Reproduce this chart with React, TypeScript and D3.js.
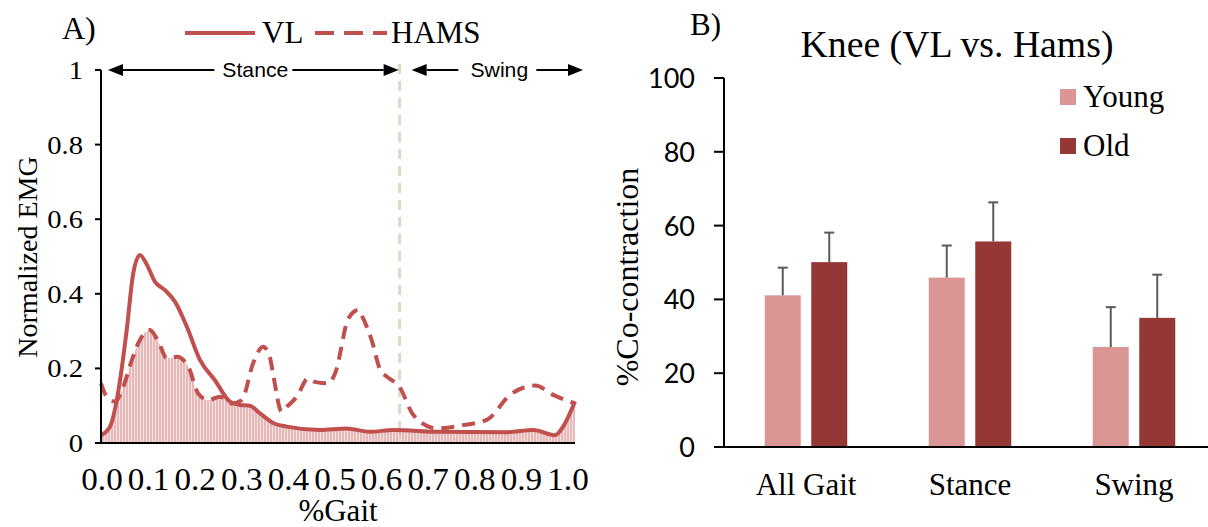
import React from "react"
import * as d3 from "d3"

// panel A: normalized EMG over the gait cycle
const gaitTicks = ["0.0", "0.1", "0.2", "0.3", "0.4", "0.5", "0.6", "0.7", "0.8", "0.9", "1.0"]
const emgTicks = [0, 0.2, 0.4, 0.6, 0.8, 1]
const vlGait = [0, .019, .037, .054, .068, .082, .096, .114, .135, .156, .181, .209, .240, .272, .293, .314, .335, .364, .392, .462, .518, .567, .617, .715, .856, .912, .958, .975, 1.0]
const vlValues = [.021, .044, .142, .30, .455, .504, .48, .432, .41, .379, .312, .222, .169, .111, .102, .100, .08, .053, .044, .035, .039, .030, .035, .030, .029, .035, .021, .044, .111]
const hamsGait = [0, .012, .03, .047, .065, .082, .103, .121, .139, .160, .184, .205, .226, .251, .276, .297, .321, .342, .356, .364, .381, .392, .413, .437, .451, .479, .494, .522, .543, .553, .571, .589, .603, .63, .659, .708, .764, .814, .863, .916, .954, 1.0]
const hamsValues = [.16, .124, .111, .151, .222, .276, .303, .272, .227, .231, .205, .133, .115, .124, .106, .115, .214, .258, .231, .178, .084, .097, .124, .173, .164, .16, .187, .334, .357, .334, .276, .196, .178, .15, .075, .039, .048, .062, .129, .154, .129, .106]
const toeOff = 0.63
const phases = ["Stance", "Swing"]

// panel B: co-contraction
const categories = ["All Gait", "Stance", "Swing"]
const groups = ["Young", "Old"]
const youngMeans = [41.1, 45.9, 27.1]
const youngErr = [7.5, 8.7, 10.8]
const oldMeans = [50.1, 55.7, 35.0]
const oldErr = [8.0, 10.6, 11.7]
const coTicks = [0, 20, 40, 60, 80, 100]

const serif = "'Liberation Serif', 'Times New Roman', serif"
const sans = "'Liberation Sans', Arial, sans-serif"
const calibri = "Lato, 'Open Sans', sans-serif"
const red = "#c0504d"
const groupColors = ["#d99694", "#953735"]

const T = ({x, y, size, sx = 1, anchor = "start", family = serif, rotate = 0, children}: any) => (
    <text transform={`translate(${x},${y}) rotate(${rotate}) scale(${sx},1)`}
        textAnchor={anchor} fontSize={size} fontFamily={family} fill="#000">{children}</text>
)

const Arrow = ({x1, x2, y, label}: any) => {
    const mid = (x1 + x2) / 2, gap = 39, head = 15, hh = 6
    return (
        <g>
            <line x1={x1 + head} x2={mid - gap} y1={y} y2={y} stroke="#000" strokeWidth={2}/>
            <line x1={mid + gap} x2={x2 - head} y1={y} y2={y} stroke="#000" strokeWidth={2}/>
            <path d={`M${x1},${y}L${x1 + head},${y - hh}L${x1 + head},${y + hh}Z`} fill="#000"/>
            <path d={`M${x2},${y}L${x2 - head},${y - hh}L${x2 - head},${y + hh}Z`} fill="#000"/>
            <T x={mid + 2} y={y + 7} size={20} sx={1.06} anchor="middle" family={sans}>{label}</T>
        </g>
    )
}

export default function App() {
    // ---- panel A
    const x = d3.scaleLinear().domain([0, 1]).range([101, 575])
    const y = d3.scaleLinear().domain([0, 1]).range([443, 70])
    const xLab = d3.scalePoint().domain(gaitTicks).range([102, 568])

    const vl = vlGait.map((g, i) => [g, vlValues[i]])
    const hams = hamsGait.map((g, i) => [g, hamsValues[i]])
    const line = d3.line().x(d => x(d[0])).y(d => y(d[1])).curve(d3.curveMonotoneX)
    const area = d3.area().x(d => x(d[0])).y0(y(0)).y1(d => y(d[1])).curve(d3.curveMonotoneX)

    // ---- panel B
    const yB = d3.scaleLinear().domain([0, 100]).range([447, 78])
    const xB = d3.scaleBand().domain(categories).range([724, 1216])
    const xG = d3.scaleBand().domain(groups).range([0, xB.bandwidth()]).paddingInner(0.226).paddingOuter(0.876)
    const means = [youngMeans, oldMeans]
    const errs = [youngErr, oldErr]

    return (
        <svg width={1208} height={527} style={{position: "absolute", left: 0, top: 0, background: "#fff"}}>
            <defs>
                <pattern id="hatch" width={3} height={10} patternUnits="userSpaceOnUse">
                    <rect width={3} height={10} fill="#e6b8b8"/>
                    <rect x={2} width={1} height={10} fill="#f5e3e3"/>
                </pattern>
                <clipPath id="underHams">
                    <path d={area(hams as any) || ""}/>
                </clipPath>
            </defs>

            {/* panel A */}
            <T x={62} y={39} size={32}>A)</T>
            <line x1={185} x2={255} y1={33} y2={33} stroke={red} strokeWidth={4}/>
            <T x={262} y={43} size={31}>VL</T>
            <line x1={315} x2={387} y1={33} y2={33} stroke={red} strokeWidth={4} strokeDasharray="19 10"/>
            <T x={391} y={43} size={31}>HAMS</T>

            <path d={area(vl as any) || ""} fill="url(#hatch)" clipPath="url(#underHams)"/>
            <line x1={x(toeOff)} x2={x(toeOff)} y1={64} y2={y(0)} stroke="#ddd9c3" strokeWidth={3} strokeDasharray="10 7"/>
            <path d={line(vl as any) || ""} fill="none" stroke={red} strokeWidth={4}/>
            <path d={line(hams as any) || ""} fill="none" stroke={red} strokeWidth={4} strokeDasharray="13 8"/>

            <Arrow x1={x(0) + 7} x2={x(toeOff) - 1} y={y(1)} label={phases[0]}/>
            <Arrow x1={x(toeOff) + 12} x2={x(1) + 8} y={y(1)} label={phases[1]}/>

            <line x1={x(0)} x2={x(0)} y1={y(1)} y2={y(0)} stroke="#000" strokeWidth={2}/>
            <line x1={95} x2={x(1)} y1={y(0)} y2={y(0)} stroke="#000" strokeWidth={2}/>
            {emgTicks.map(t => (
                <g key={t}>
                    <line x1={95} x2={x(0)} y1={y(t)} y2={y(t)} stroke="#000" strokeWidth={2}/>
                    <T x={83} y={y(t) + 9} size={26} sx={1.1} anchor="end">{t}</T>
                </g>
            ))}
            {gaitTicks.map(t => (
                <T key={t} x={xLab(t)} y={490} size={31} sx={1.07} anchor="middle">{t}</T>
            ))}
            <T x={338} y={521} size={31} anchor="middle">%Gait</T>
            <T x={37} y={257} size={28} rotate={-90} anchor="middle">Normalized EMG</T>

            {/* panel B */}
            <T x={690} y={35} size={31}>B)</T>
            <T x={957} y={57} size={37} sx={1.02} anchor="middle">Knee (VL vs. Hams)</T>

            {categories.map((c, ci) => groups.map((g, gi) => {
                const bx = xB(c)! + xG(g)!
                const cx = bx + xG.bandwidth() / 2
                const v = means[gi][ci], e = errs[gi][ci]
                return (
                    <g key={c + g}>
                        <rect x={bx} y={yB(v)} width={xG.bandwidth()} height={yB(0) - yB(v)} fill={groupColors[gi]}/>
                        <line x1={cx} x2={cx} y1={yB(v)} y2={yB(v + e)} stroke="#595959" strokeWidth={2}/>
                        <line x1={cx - 5} x2={cx + 5} y1={yB(v + e)} y2={yB(v + e)} stroke="#595959" strokeWidth={2}/>
                    </g>
                )
            }))}

            <line x1={724} x2={724} y1={yB(100)} y2={yB(0)} stroke="#000" strokeWidth={2}/>
            <line x1={714} x2={1208} y1={yB(0)} y2={yB(0)} stroke="#000" strokeWidth={2}/>
            {coTicks.map(t => (
                <g key={t}>
                    <line x1={714} x2={724} y1={yB(t)} y2={yB(t)} stroke="#000" strokeWidth={2}/>
                    <T x={695} y={yB(t) + 10} size={27} anchor="end" family={calibri}>{t}</T>
                </g>
            ))}
            {categories.map(c => (
                <T key={c} x={xB(c)! + xB.bandwidth() / 2} y={495} size={31} anchor="middle">{c}</T>
            ))}
            <T x={638} y={277} size={32} rotate={-90} anchor="middle">%Co-contraction</T>

            {groups.map((g, gi) => (
                <g key={g}>
                    <rect x={1060} y={89 + gi * 49} width={16} height={16} fill={groupColors[gi]}/>
                    <T x={1083} y={107 + gi * 49} size={31}>{g}</T>
                </g>
            ))}
        </svg>
    )
}
